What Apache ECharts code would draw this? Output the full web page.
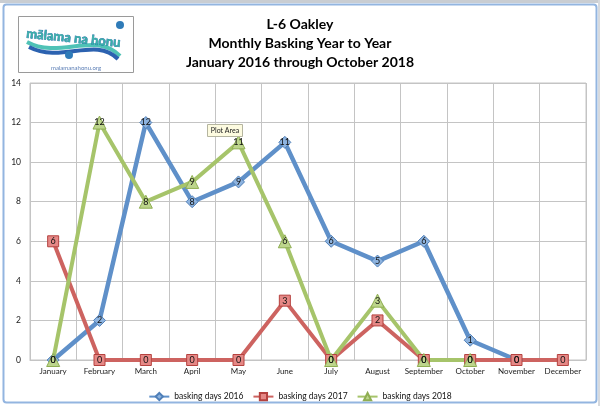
<!DOCTYPE html>
<html>
<head>
<meta charset="utf-8">
<script src="https://cdn.jsdelivr.net/npm/echarts@6/dist/echarts.min.js"></script>
<style>html,body{margin:0;padding:0;background:#fff;}#c{width:600px;height:406px;}</style>
</head>
<body>
<div id="c"></div>
<script>
const months = ['January','February','March','April','May','June','July','August','September','October','November','December'];
const days2016 = [0, 2, 12, 8, 9, 11, 6, 5, 6, 1, 0, null];
const days2017 = [6, 0, 0, 0, 0, 3, 0, 2, 0, 0, 0, 0];
const days2018 = [0, 12, 8, 9, 11, 6, 0, 3, 0, 0, null, null];
const seriesNames = ['basking days 2016', 'basking days 2017', 'basking days 2018'];
const titleLines = ['L-6 Oakley', 'Monthly Basking Year to Year', 'January 2016 through October 2018'];

const chart = echarts.init(document.getElementById('c'), null, {renderer: 'canvas'});
const font = 'Lato, "Open Sans", sans-serif';
const lbl = {show: true, position: 'inside', fontSize: 9, color: '#111', fontFamily: font};

function mk(name, data, color, fill, border, symbol, size, lw) {
  return {
    name: name, type: 'line', data: data, symbol: symbol, symbolSize: size,
    connectNulls: false,
    lineStyle: {color: color, width: lw},
    itemStyle: {color: fill, borderColor: border, borderWidth: 1},
    label: lbl,
    z: 2
  };
}

chart.setOption({
  animation: false,
  backgroundColor: '#fff',
  title: {
    text: titleLines.join('\n'),
    left: 'center', top: 10,
    textStyle: {fontFamily: font, fontWeight: 'bold', fontSize: 14, lineHeight: 19, color: '#000'}
  },
  legend: {
    data: seriesNames,
    left: 'center', top: 387,
    itemWidth: 20, itemHeight: 9, itemGap: 9,
    textStyle: {fontSize: 8.5, fontFamily: font, color: '#111'}
  },
  grid: {left: 30, right: 14, top: 83, bottom: 46, show: true, borderColor: '#c4c4c4', borderWidth: 1, containLabel: false},
  xAxis: {
    type: 'category', data: months, boundaryGap: true,
    axisLine: {show: true, lineStyle: {color: '#c4c4c4'}},
    axisTick: {show: false},
    splitLine: {show: true, interval: 0, lineStyle: {color: '#c4c4c4', width: 1}},
    axisLabel: {fontSize: 8, fontFamily: font, color: '#222', margin: 7, interval: 0}
  },
  yAxis: {
    type: 'value', min: 0, max: 14, interval: 2,
    axisLine: {show: false}, axisTick: {show: false},
    splitLine: {lineStyle: {color: '#c4c4c4', width: 1}},
    axisLabel: {fontSize: 8.5, fontFamily: font, color: '#222', margin: 9}
  },
  series: [
    mk(seriesNames[0], days2016, '#5f90c9', '#8db3df', '#4f7fb8', 'diamond', 12, 4.5),
    mk(seriesNames[1], days2017, '#cd6360', '#e58886', '#b5423f', 'rect', 11, 4),
    mk(seriesNames[2], days2018, '#a6c46a', '#bdd58c', '#8fae52', 'triangle', 13, 4)
  ],
  graphic: [
    {type: 'rect', shape: {x: 0, y: 0, width: 600, height: 3}, style: {fill: '#c9cdd2'}, silent: true},
    {type: 'rect', shape: {x: 3.5, y: 4.5, width: 593, height: 398, r: 3}, style: {fill: 'none', stroke: '#93b5e0', lineWidth: 2}, silent: true},
    {type: 'rect', shape: {x: 598, y: 0, width: 2, height: 406}, style: {fill: '#d6d9dd'}, silent: true},
    {type: 'rect', shape: {x: 18.5, y: 16.5, width: 115, height: 56}, style: {fill: '#fff', stroke: '#9a9a9a', lineWidth: 1}, silent: true},
    {type: 'bezierCurve', shape: {x1: 27, y1: 42, cpx1: 60, cpy1: 60, cpx2: 95, cpy2: 30, x2: 120, y2: 56}, style: {fill: 'none', stroke: '#4fc2b6', lineWidth: 4}, silent: true},
    {type: 'bezierCurve', shape: {x1: 29, y1: 47, cpx1: 62, cpy1: 64, cpx2: 95, cpy2: 36, x2: 118, y2: 59}, style: {fill: 'none', stroke: '#2c62b0', lineWidth: 4}, silent: true},
    {type: 'text', x: 27, y: 27, rotation: -0.1, style: {text: 'mālama na honu', fontSize: 13, fontWeight: 'bold', fontFamily: font, fill: '#38b0a8', stroke: '#1d5fa8', lineWidth: 0.6}, silent: true},
    {type: 'circle', shape: {cx: 120, cy: 25, r: 4}, style: {fill: '#2f7bb8'}, silent: true},
    {type: 'circle', shape: {cx: 69, cy: 55, r: 4}, style: {fill: '#2f7bb8'}, silent: true},
    {type: 'text', x: 76, y: 68.5, style: {text: 'malamanahonu.org', fontSize: 6, fontFamily: font, fill: '#5a7db5', align: 'center', verticalAlign: 'middle'}, silent: true},
    {type: 'rect', shape: {x: 207.5, y: 124.5, width: 35, height: 12}, style: {fill: '#fdfbe0', stroke: '#b5b5a0', lineWidth: 1}, silent: true, z: 100},
    {type: 'text', x: 225, y: 130.5, style: {text: 'Plot Area', fontSize: 7, fontFamily: font, fill: '#222', align: 'center', verticalAlign: 'middle'}, silent: true, z: 101}
  ]
});
</script>
</body>
</html>
